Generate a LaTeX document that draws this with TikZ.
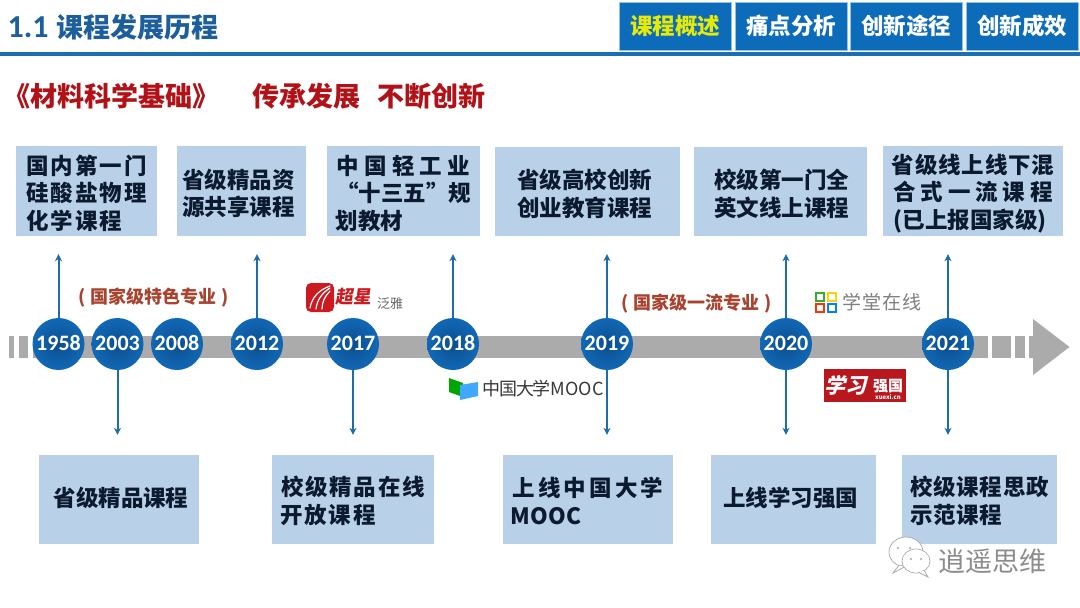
\documentclass[tikz,border=0pt]{standalone}
\usepackage{fontspec}
\setmainfont{Noto Sans CJK SC}
\newfontfamily\latinbold{Carlito}
\usetikzlibrary{arrows.meta,shadings}
\definecolor{boxblue}{HTML}{B9D1E8}
\definecolor{inkdark}{HTML}{0B1A2E}
\definecolor{headblue}{HTML}{1B6FB0}
\definecolor{titleblue}{HTML}{1D5F9C}
\definecolor{tabblue}{HTML}{0D6CB9}
\definecolor{tabedge}{HTML}{8FC3E8}
\definecolor{titlered}{HTML}{B01218}
\definecolor{notered}{HTML}{A8432F}
\definecolor{bargray}{HTML}{ABABAB}
\definecolor{arrowblue}{HTML}{1F6DA8}
\definecolor{dotouter}{HTML}{1168B5}
\definecolor{dotinner}{HTML}{0C4E8E}
\definecolor{logored}{HTML}{CC1A20}
\newcommand{\fsz}[1]{\fontsize{#1}{#1}\selectfont}
\newcommand{\lsp}[2]{{\addfontfeature{LetterSpace=#1}#2}}
\newcommand{\topstrut}[1]{\rule{0pt}{#1pt}}
\newcommand{\lowstrut}{\rule[-6pt]{0pt}{6pt}}
\tikzset{
  x=1pt,y=-1pt,
  infobox/.style={fill=boxblue,draw=none,inner sep=0pt,align=center,text=inkdark,
    font=\fsz{22.5}\bfseries,execute at begin node={\baselineskip=27.5pt}},
  yeardot/.style={circle,minimum size=52pt,inner sep=0pt,draw=none,text=white,
    inner color=dotinner,outer color=dotouter,font=\latinbold\fsz{22}\bfseries,
    text height=13pt,text depth=0pt},
  stemarrow/.style={draw=arrowblue,line width=2pt,-{Stealth[length=7pt,width=7pt]}},
  tabbox/.style={fill=tabblue,draw=tabedge,line width=.7pt,minimum width=112pt,minimum height=48pt,
    inner sep=0pt,text=white,font=\fsz{22.5}\bfseries},
  barpiece/.style={fill=bargray,draw=none},
  toptext/.style={inner sep=0pt,anchor=west,font=\fsz{27}\bfseries,text=titlered},
  noteLabel/.style={inner sep=0pt,text=notered,font=\fsz{18}\bfseries},
  plain/.style={inner sep=0pt}
}
\begin{document}
\begin{tikzpicture}
\useasboundingbox (0,0) rectangle (1080,608);
\fill[white] (0,0) rectangle (1080,608);
% header
\fill[headblue] (0,52) rectangle (1080,56);
\node[plain,anchor=west,text=titleblue,font=\fsz{27}\bfseries] (title) at (7.5,27) {{\latinbold\fsz{32}1.1}\hspace{8pt}课程发展历程};
\node[tabbox,text=yellow!90!green] (tab1) at (675,26) {课程概述};
\node[tabbox] (tab2) at (791,26) {痛点分析};
\node[tabbox] (tab3) at (906,26) {创新途径};
\node[tabbox] (tab4) at (1022,26) {创新成效};
\node[toptext] (sub1) at (3,96) {《材料科学基础》};
\node[toptext] (sub2) at (252,96) {传承发展};
\node[toptext] (sub3) at (377,96) {不断创新};
% bar
\fill[barpiece] (9,336) rectangle (14,358);
\fill[barpiece] (19,336) rectangle (28,358);
\fill[barpiece] (33,336) rectangle (988,358);
\fill[barpiece] (992,336) rectangle (1010.5,358);
\fill[barpiece] (1015,336) rectangle (1025,358);
\fill[barpiece] (1029,336) -- (1033,336) -- (1033,319) -- (1069.5,347) -- (1033,375) -- (1033,358) -- (1029,358) -- cycle;
% top boxes
\node[infobox,minimum width=141pt,minimum height=90pt] (t1) at (86.5,191) {\topstrut{24}\lsp{9}{国内第一门}\\\lsp{9}{硅酸盐物理}\\\lsp{9}{化学课程}\hspace*{24.6pt}};
\node[infobox,minimum width=129pt,minimum height=90pt] (t2) at (241.5,191) {\topstrut{24}省级精品资\hspace*{6pt}\\源共享课程\hspace*{6pt}};
\node[infobox,minimum width=153pt,minimum height=90pt] (t3) at (403.5,191) {\topstrut{24}\lsp{23}{中国轻工业}\\“十三五”规\\划教材\hspace*{68pt}};
\node[infobox,minimum width=185pt,minimum height=89pt] (t4) at (587.5,191.5) {\topstrut{24}省级高校创新\hspace*{6pt}\\创业教育课程\hspace*{6pt}};
\node[infobox,minimum width=173pt,minimum height=89pt] (t5) at (780.5,191.5) {\topstrut{24}\hspace*{2pt}校级第一门全\\\hspace*{2pt}英文线上课程};
\node[infobox,minimum width=180pt,minimum height=90pt] (t6) at (973,191) {\topstrut{24}\lsp{3.5}{省级线上线下混}\\\lsp{22}{合式一流课程}\\(已上报国家级)\hspace*{6pt}};
% bottom boxes
\node[infobox,minimum width=160pt,minimum height=89pt] (b1) at (119,499.5) {\hspace*{4pt}省级精品课程\lowstrut};
\node[infobox,minimum width=162pt,minimum height=89pt] (b2) at (353,499.5) {\topstrut{22}\lsp{8}{校级精品在线}\\\lsp{8}{开放课程}\hspace*{50pt}};
\node[infobox,minimum width=170pt,minimum height=89pt] (b3) at (588,499.5) {\topstrut{22}\lsp{14}{上线中国大学}\\MOOC\hspace*{84pt}};
\node[infobox,minimum width=165pt,minimum height=89pt] (b4) at (793.5,499.5) {上线学习强国\hspace*{6pt}\lowstrut};
\node[infobox,minimum width=155pt,minimum height=89pt] (b5) at (979.5,499.5) {\topstrut{22}\lsp{3.5}{校级课程思政}\\\lsp{3.5}{示范课程}\hspace*{46.6pt}};
% year dots
\node[yeardot] (y1958) at (58.5,344) {1958};
\node[yeardot] (y2003) at (117.5,344) {2003};
\node[yeardot] (y2008) at (177,344) {2008};
\node[yeardot] (y2012) at (257,344) {2012};
\node[yeardot] (y2017) at (353,344) {2017};
\node[yeardot] (y2018) at (453,344) {2018};
\node[yeardot] (y2019) at (607,344) {2019};
\node[yeardot] (y2020) at (786,344) {2020};
\node[yeardot] (y2021) at (948,344) {2021};
% connectors
\foreach \y/\b in {y1958/t1,y2012/t2,y2018/t3,y2019/t4,y2020/t5,y2021/t6}
  \draw[stemarrow,shorten >=18pt] (\y.north) -- (\y.north |- \b.south);
\foreach \y/\b in {y2003/b1,y2017/b2,y2019/b3,y2020/b4,y2021/b5}
  \draw[stemarrow,shorten >=20pt] (\y.south) -- (\y.south |- \b.north);
% notes
\node[noteLabel] (n1) at (154,297.5) {(\hspace{5pt}国家级特色专业\hspace{5pt})};
\node[noteLabel] (n2) at (697,303.5) {(\hspace{5pt}国家级一流专业\hspace{5pt})};
% chaoxing logo
\fill[logored,rounded corners=5pt] (306,283) rectangle (334,312);
\begin{scope}[draw=white,line width=1.2pt,line cap=round]
  \draw (310,308) .. controls (312,297) and (319,290) .. (330,286);
  \draw (316,309) .. controls (317,300) and (322,293) .. (330,288);
  \draw (322,309) .. controls (322,302) and (325,296) .. (330,291);
\end{scope}
\node[plain,text=logored,font=\fsz{18}\bfseries,xslant=0.15,transform shape] (cxname) at (355,297) {超星};
\node[plain,text=black!60,font=\fsz{13}] (cxsub) at (390,304) {泛雅};
% mooc logo
\fill[green!65!black] (449,378) -- (463,383) -- (463,397) -- (449,392) -- cycle;
\fill[blue!45!cyan!75] (460,385) -- (478,382) -- (478,396) -- (460,400) -- cycle;
\node[plain,anchor=west,text=black!78,font=\fsz{18}] (mooc) at (482,389) {\lsp{-6}{中国大学}MOOC};
% xuetang logo
\draw[green!60!black!80,line width=1.2pt] (816,293) rectangle (824,301);
\draw[yellow!70!orange,line width=1.2pt] (828,293) rectangle (836,301);
\draw[red!60!orange,line width=1.2pt] (816,304) rectangle (824,312);
\draw[blue!50!cyan,line width=1.2pt] (828,304) rectangle (836,312);
\node[plain,anchor=west,text=black!50,font=\fsz{19}] (xt) at (842,302) {\lsp{5}{学堂在线}};
% xuexi logo
\node[fill=logored!90!black,minimum width=82pt,minimum height=33pt,inner sep=0pt] (xxbox) at (865,385.5) {};
\node[plain,text=white,font=\fsz{21}\bfseries,xslant=0.25,transform shape] (xx1) at (848,385) {学习};
\node[plain,text=white,font=\fsz{15}\bfseries] (xx2) at (888,386) {强国};
\node[plain,text=white,font=\fsz{6}\bfseries] (xx3) at (888,397.5) {xuexi.cn};
% watermark
\begin{scope}[draw=black!35,line width=.7pt,fill=white]
  \filldraw (906,552) ellipse (17pt and 15pt);
  \filldraw (899,565) -- (893,573) -- (906,566) -- cycle;
  \filldraw (916,561) ellipse (14pt and 12pt);
  \filldraw (924,570) -- (928,577) -- (918,572) -- cycle;
\end{scope}
\fill[white] (916,561) ellipse (13.3pt and 11.3pt);
\fill[black!35] (898,548) circle (1.2pt) (910,548) circle (1.2pt) (911,559) circle (1.2pt) (921,559) circle (1.2pt);
\node[plain,anchor=west,text=black!45,font=\fsz{27}] (wm) at (938,561) {逍遥思维};
\end{tikzpicture}
\end{document}
